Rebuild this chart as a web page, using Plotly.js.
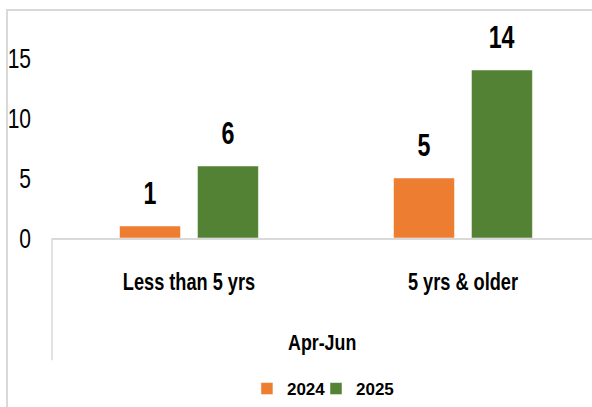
<!DOCTYPE html>
<html>
<head>
<meta charset="utf-8">
<script src="https://cdn.plot.ly/plotly-3.0.1.min.js"></script>
<style>
  html, body { margin: 0; padding: 0; background: #fff; }
  #wrap { position: relative; width: 592px; height: 407px; }
  #chart { width: 592px; height: 407px; }
  #frame { position: absolute; left: 6px; top: 9px; right: 0; bottom: 0;
           border-top: 2px solid #d9d9d9; border-left: 2px solid #d9d9d9; pointer-events: none; }
</style>
</head>
<body>
<div id="wrap"><div id="chart"></div><div id="frame"></div></div>
<script>
const categories = ['Less than 5 yrs', '5 yrs & older'];
const groupLabel = 'Apr-Jun';
const seriesNames = ['2024', '2025'];
const values2024 = [1, 5];
const values2025 = [6, 14];
const seriesColors = ['#ED7D31', '#548235'];

const FONT = "'Liberation Sans', Arial, sans-serif";
const labelTpl = '<span style="font-size:31px">%{y}</span><br> ';

const traces = [
  {
    type: 'bar', name: seriesNames[0], x: categories, y: values2024,
    marker: { color: seriesColors[0], line: { color: '#ffffff', width: 0.5 } },
    texttemplate: labelTpl, textposition: 'outside', cliponaxis: false,
    textfont: { family: FONT, size: 12, color: '#000', weight: 'bold' },
    hoverinfo: 'skip', legend: 'legend'
  },
  {
    type: 'bar', name: seriesNames[1], x: categories, y: values2025,
    marker: { color: seriesColors[1], line: { color: '#ffffff', width: 0.5 } },
    texttemplate: labelTpl, textposition: 'outside', cliponaxis: false,
    textfont: { family: FONT, size: 12, color: '#000', weight: 'bold' },
    hoverinfo: 'skip', legend: 'legend2'
  }
];

function legendAt(x) {
  return {
    orientation: 'h', x: x, xanchor: 'left', y: -0.788, yanchor: 'middle',
    font: { family: FONT, size: 17, color: '#000', weight: 'bold' },
    itemwidth: 30, bgcolor: 'rgba(0,0,0,0)', borderwidth: 0
  };
}

const layout = {
  width: 592, height: 407,
  margin: { l: 52, r: 0, t: 46, b: 168, pad: 0 },
  paper_bgcolor: 'rgba(0,0,0,0)', plot_bgcolor: 'rgba(0,0,0,0)',
  font: { family: FONT, color: '#000' },
  barmode: 'group', bargap: 0.431, bargroupgap: 0.218,
  showlegend: true,
  xaxis: {
    type: 'category', range: [-0.5, 1.471], fixedrange: true,
    ticks: '', showgrid: false, zeroline: false,
    showline: true, linecolor: '#d9d9d9', linewidth: 2,
    tickfont: { family: FONT, size: 23, color: '#000', weight: 'bold' },
    ticklabelstandoff: 22
  },
  yaxis: {
    range: [0, 16], tick0: 0, dtick: 5, fixedrange: true,
    showgrid: false, zeroline: false, showline: false, ticks: '',
    tickfont: { family: FONT, size: 28, color: '#000' },
    ticklabelstandoff: 20
  },
  legend: legendAt(0.361),
  legend2: legendAt(0.4889),
  annotations: [
    { text: groupLabel, xref: 'paper', yref: 'paper', x: 0.5, y: -0.545,
      xanchor: 'center', yanchor: 'middle', showarrow: false,
      font: { family: FONT, size: 22, color: '#000', weight: 'bold' } }
  ],
  shapes: [
    { type: 'line', xref: 'paper', yref: 'paper', x0: 0, x1: 0, y0: 0, y1: -0.637,
      line: { color: '#d9d9d9', width: 1.5 } }
  ]
};

// Narrow the Arial-metric text horizontally to resemble the reference's condensed face.
const condenseBy = [
  ['.ytick text', 0.75],
  ['.xtick text', 0.79],
  ['.bartext', 0.75],
  ['.annotation-text', 0.81]
];
function condense(gd) {
  condenseBy.forEach(([sel, sx]) => {
    gd.querySelectorAll(sel).forEach(t => {
      if (t.getAttribute('data-condensed')) return;
      const x = parseFloat(t.getAttribute('x')) || 0;
      const old = t.getAttribute('transform') || '';
      t.setAttribute('transform', old + ' translate(' + x + ',0) scale(' + sx + ',1) translate(' + (-x) + ',0)');
      t.setAttribute('data-condensed', '1');
    });
  });
}

Plotly.newPlot('chart', traces, layout, { displayModeBar: false, staticPlot: true })
  .then(gd => condense(gd));
</script>
</body>
</html>
